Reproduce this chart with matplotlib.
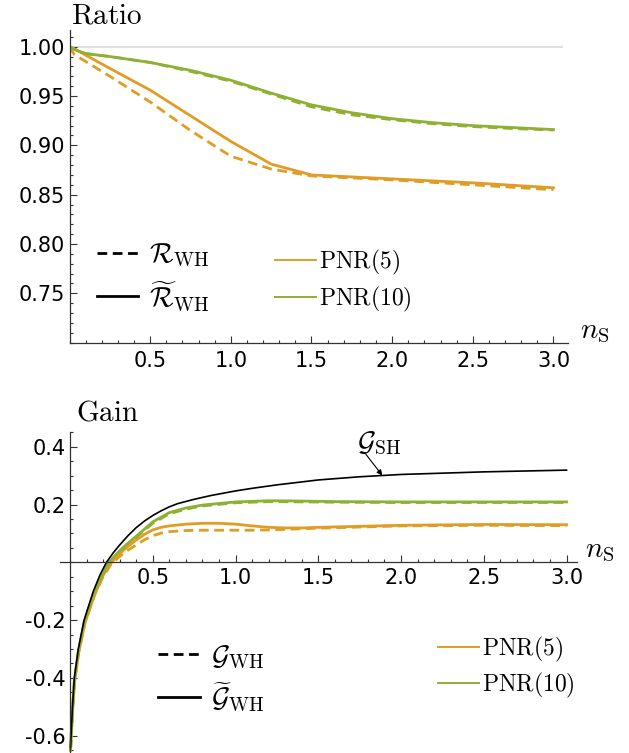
import numpy as np
import matplotlib
matplotlib.use('Agg')
import matplotlib.pyplot as plt
from matplotlib.lines import Line2D
from matplotlib.ticker import MultipleLocator, FixedLocator, FormatStrFormatter

plt.rcParams['font.family'] = ['DejaVu Sans']
plt.rcParams['mathtext.fontset'] = 'cm'
plt.rcParams['axes.unicode_minus'] = False

ORANGE = '#E19C24'
GREEN = '#8FB032'
AXIS_COLOR = '#333333'

# ---- Ratio panel ----
ratio_pnr5_x = [0, 0.05, 0.25, 0.5, 0.75, 1.0, 1.25, 1.5, 2.0, 2.5, 3.0]
ratio_pnr5_tilde = [1.0, 0.996, 0.978, 0.956, 0.930, 0.904, 0.881, 0.870, 0.866, 0.862, 0.857]
ratio_pnr5_dash_x = [0, 0.03, 0.25, 0.5, 0.75, 1.0, 1.25, 1.5, 2.0, 2.5, 3.0]
ratio_pnr5 = [1.0, 0.992, 0.970, 0.944, 0.915, 0.889, 0.876, 0.869, 0.865, 0.860, 0.855]

ratio_pnr10_x = [0, 0.05, 0.1, 0.25, 0.5, 0.75, 1.0, 1.25, 1.5, 1.75, 2.0, 2.25, 2.5, 2.75, 3.0]
ratio_pnr10_tilde = [1.0, 0.996, 0.993, 0.990, 0.984, 0.976, 0.966, 0.953, 0.941, 0.933,
                     0.927, 0.923, 0.920, 0.918, 0.916]
ratio_pnr10 = [1.0, 0.996, 0.993, 0.990, 0.984, 0.975, 0.965, 0.952, 0.939, 0.931,
               0.926, 0.922, 0.919, 0.917, 0.9155]

# ---- Gain panel ----
gsh_x = [0.003, 0.008, 0.015, 0.026, 0.05, 0.085, 0.141, 0.18, 0.22, 0.26, 0.3, 0.35, 0.4,
         0.45, 0.5, 0.55, 0.6, 0.65, 0.75, 0.85, 1.0, 1.1, 1.25, 1.5, 1.75, 2.0, 2.5, 3.0]
gsh_y = [-0.64, -0.58, -0.50, -0.40, -0.30, -0.20, -0.10, -0.045, 0.0, 0.032, 0.06, 0.092, 0.12,
         0.143, 0.162, 0.178, 0.192, 0.203, 0.218, 0.231, 0.247, 0.256, 0.268, 0.285, 0.296,
         0.304, 0.313, 0.319]

gain_pnr10_x = [0.003, 0.008, 0.015, 0.026, 0.05, 0.085, 0.141, 0.19, 0.235, 0.3, 0.35, 0.4,
                0.45, 0.5, 0.6, 0.7, 0.8, 1.0, 1.2, 1.4, 1.6, 2.0, 2.5, 3.0]
gain_pnr10_tilde = [-0.65, -0.59, -0.51, -0.41, -0.31, -0.21, -0.11, -0.05, 0.0, 0.04, 0.066,
                    0.09, 0.115, 0.140, 0.172, 0.188, 0.198, 0.209, 0.213, 0.212, 0.210,
                    0.209, 0.209, 0.209]
gain_pnr10 = [-0.65, -0.59, -0.51, -0.41, -0.31, -0.21, -0.11, -0.05, 0.0, 0.038, 0.063,
              0.087, 0.111, 0.135, 0.168, 0.184, 0.195, 0.206, 0.210, 0.209, 0.208,
              0.207, 0.207, 0.207]

gain_pnr5_x = [0.003, 0.008, 0.016, 0.028, 0.053, 0.09, 0.15, 0.2, 0.25, 0.3, 0.35, 0.4, 0.45,
               0.5, 0.55, 0.6, 0.7, 0.8, 0.9, 1.0, 1.1, 1.2, 1.3, 1.4, 1.5, 2.0, 2.5, 3.0]
gain_pnr5_tilde = [-0.65, -0.59, -0.51, -0.41, -0.31, -0.21, -0.11, -0.045, 0.0, 0.03, 0.055,
                   0.077, 0.097, 0.112, 0.121, 0.126, 0.132, 0.135, 0.135, 0.132, 0.126,
                   0.121, 0.119, 0.119, 0.121, 0.128, 0.131, 0.130]
gain_pnr5 = [-0.65, -0.59, -0.51, -0.41, -0.31, -0.21, -0.11, -0.05, -0.005, 0.02, 0.042,
             0.06, 0.078, 0.092, 0.101, 0.106, 0.110, 0.111, 0.111, 0.111, 0.111,
             0.112, 0.114, 0.116, 0.118, 0.126, 0.128, 0.127]

ratio_xticks = [0.5, 1.0, 1.5, 2.0, 2.5, 3.0]
ratio_yticks = [0.75, 0.80, 0.85, 0.90, 0.95, 1.00]
gain_yticks = [-0.6, -0.4, -0.2, 0.2, 0.4]
GSH_ARROW_AT = 1.887

W, H = 629, 753
fig = plt.figure(figsize=(W / 100, H / 100), dpi=100)


def fig_pos(x, y):
    return (x / W, 1 - y / H)


def style_axes(ax, xticks, yticks, yminor, yfmt):
    for side in ('top', 'right'):
        ax.spines[side].set_visible(False)
    for side in ('left', 'bottom'):
        ax.spines[side].set_color(AXIS_COLOR)
        ax.spines[side].set_linewidth(0.9)
    ax.xaxis.set_major_locator(FixedLocator(xticks))
    ax.yaxis.set_major_locator(FixedLocator(yticks))
    ax.xaxis.set_minor_locator(MultipleLocator(0.1))
    ax.yaxis.set_minor_locator(MultipleLocator(yminor))
    ax.xaxis.set_major_formatter(FormatStrFormatter('%.1f'))
    ax.yaxis.set_major_formatter(FormatStrFormatter(yfmt))
    ax.tick_params(which='both', direction='in', color=AXIS_COLOR, width=0.8,
                   labelsize=15)
    ax.tick_params(which='major', length=5)
    ax.tick_params(which='minor', length=2.5)
    ax.tick_params(axis='y', pad=3)


# top panel
ax1 = fig.add_axes([69.5 / W, 1 - 342.7 / H, 498.5 / W, 312.7 / H])
ax1.set_xlim(0, 3.09)
ax1.set_ylim(0.70, 1.0169)
style_axes(ax1, ratio_xticks, ratio_yticks, 0.01, '%.2f')
ax1.tick_params(axis='x', pad=6)

ax1.hlines(1.0, 0, 3.06, color='#d9d9d9', lw=1.2, zorder=1)
ax1.plot(ratio_pnr5_dash_x, ratio_pnr5, color=ORANGE, lw=2, dashes=(3.5, 2))
ax1.plot(ratio_pnr10_x, ratio_pnr10, color=GREEN, lw=2, dashes=(3.5, 2))
ax1.plot(ratio_pnr5_x, ratio_pnr5_tilde, color=ORANGE, lw=2)
ax1.plot(ratio_pnr10_x, ratio_pnr10_tilde, color=GREEN, lw=2)

fig.text(*fig_pos(71, 23), r'$\mathrm{Ratio}$', fontsize=21, va='baseline')
fig.text(*fig_pos(580, 338), r'$n_{\mathrm{S}}$', fontsize=21, va='baseline')

style_handles = [Line2D([], [], color='black', lw=2, dashes=(3.5, 2)),
                 Line2D([], [], color='black', lw=2)]
pnr_handles = [Line2D([], [], color=ORANGE, lw=1.4),
               Line2D([], [], color=GREEN, lw=1.4)]

leg = ax1.legend(style_handles, [r'$\mathcal{R}_{\mathrm{WH}}$', r'$\widetilde{\mathcal{R}}_{\mathrm{WH}}$'],
                 loc='center left', bbox_to_anchor=fig_pos(96.7, 276.7),
                 bbox_transform=fig.transFigure, frameon=False, fontsize=20,
                 handlelength=1.5, handletextpad=0.4, labelspacing=0.35, borderpad=0,
                 borderaxespad=0)
ax1.add_artist(leg)
ax1.legend(pnr_handles, [r'$\mathrm{PNR}(5)$', r'$\mathrm{PNR}(10)$'],
           loc='center left', bbox_to_anchor=fig_pos(275, 280.8),
           bbox_transform=fig.transFigure, frameon=False, fontsize=17,
           handlelength=1.75, handletextpad=0.1, labelspacing=0.35, borderpad=0,
           borderaxespad=0)

# bottom panel
ax2 = fig.add_axes([60.1 / W, 0, 517.2 / W, 321.3 / H])
ax2.set_xlim(-0.06, 3.065)
ax2.set_ylim(-0.66, 0.452)
style_axes(ax2, ratio_xticks, gain_yticks, 0.05, '%.1f')
ax2.spines['left'].set_position(('data', 0))
ax2.spines['bottom'].set_position(('data', 0))
ax2.tick_params(axis='x', pad=4)

ax2.plot(gain_pnr5_x, gain_pnr5, color=ORANGE, lw=2, dashes=(3.5, 2))
ax2.plot(gain_pnr10_x, gain_pnr10, color=GREEN, lw=2, dashes=(3.5, 2))
ax2.plot(gain_pnr5_x, gain_pnr5_tilde, color=ORANGE, lw=2)
ax2.plot(gain_pnr10_x, gain_pnr10_tilde, color=GREEN, lw=2)
ax2.plot(gsh_x, gsh_y, color='black', lw=1.2)

arrow_y = np.interp(GSH_ARROW_AT, gsh_x, gsh_y)
ax2.annotate('', xy=(GSH_ARROW_AT, arrow_y), xytext=(GSH_ARROW_AT - 0.1, arrow_y + 0.074),
             arrowprops=dict(arrowstyle='-|>', color='black', lw=0.8, mutation_scale=8,
                             shrinkA=0, shrinkB=0))
ax2.text(GSH_ARROW_AT - 0.155, arrow_y + 0.086, r'$\mathcal{G}_{\mathrm{SH}}$',
         fontsize=20, va='baseline')

fig.text(*fig_pos(76, 421), r'$\mathrm{Gain}$', fontsize=21, va='baseline')
fig.text(*fig_pos(585, 556.7), r'$n_{\mathrm{S}}$', fontsize=21, va='baseline')

leg = ax2.legend(style_handles, [r'$\mathcal{G}_{\mathrm{WH}}$', r'$\widetilde{\mathcal{G}}_{\mathrm{WH}}$'],
                 loc='center left', bbox_to_anchor=fig_pos(158, 677.5),
                 bbox_transform=fig.transFigure, frameon=False, fontsize=20,
                 handlelength=1.5, handletextpad=0.4, labelspacing=0.35, borderpad=0,
                 borderaxespad=0)
ax2.add_artist(leg)
ax2.legend(pnr_handles, [r'$\mathrm{PNR}(5)$', r'$\mathrm{PNR}(10)$'],
           loc='center left', bbox_to_anchor=fig_pos(438, 667.5),
           bbox_transform=fig.transFigure, frameon=False, fontsize=17,
           handlelength=1.75, handletextpad=0.1, labelspacing=0.3, borderpad=0,
           borderaxespad=0)

fig.savefig('out.png', dpi=100)
